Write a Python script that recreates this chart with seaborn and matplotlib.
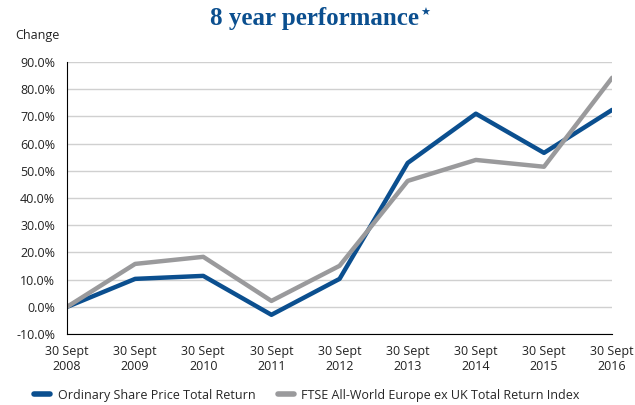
import numpy as np
import pandas as pd
import seaborn as sns
import matplotlib.pyplot as plt
from matplotlib.ticker import FuncFormatter

years = [2008, 2009, 2010, 2011, 2012, 2013, 2014, 2015, 2016]
share_price = [0.0, 10.3, 11.4, -2.9, 10.3, 52.9, 71.0, 56.6, 72.4]
ftse_index = [0.0, 15.8, 18.4, 2.2, 15.1, 46.3, 54.0, 51.5, 84.2]
series_names = ["Ordinary Share Price Total Return",
                "FTSE All-World Europe ex UK Total Return Index"]
tick_labels = ["30 Sept\n%d" % y for y in years]

df = pd.DataFrame({
    "year": years * 2,
    "change": share_price + ftse_index,
    "series": [series_names[0]] * len(years) + [series_names[1]] * len(years),
})

sns.set_style("white")
plt.rcParams['font.family'] = ['Open Sans', 'DejaVu Sans']

fig = plt.figure(figsize=(6.35, 4.05), dpi=100)
ax = fig.add_axes([0.1055, 0.175, 0.8585, 0.672])

palette = {series_names[0]: "#0b4f8f", series_names[1]: "#9a9a9c"}
sns.lineplot(data=df, x="year", y="change", hue="series", palette=palette,
             linewidth=3.2, ax=ax, legend=True)

ax.set_xlim(2008, 2016)
ax.set_ylim(-10, 90)
ax.set_yticks(np.arange(-10, 91, 10))
ax.yaxis.set_major_formatter(FuncFormatter(lambda v, p: "%.1f%%" % v))
ax.set_xticks(years)
ax.set_xticklabels(tick_labels)
ax.set_xlabel("")
ax.set_ylabel("")
ax.grid(axis="y", color="#d0d0d0", linewidth=1)
ax.set_axisbelow(True)
for s in ["top", "right"]:
    ax.spines[s].set_visible(False)
for s in ["left", "bottom"]:
    ax.spines[s].set_color("black")
    ax.spines[s].set_linewidth(0.8)
ax.tick_params(axis="both", direction="out", length=5, width=0.8, color="black",
               labelsize=9, labelcolor="#222222")
ax.tick_params(axis="x", pad=3)

ax.text(-0.095, 1.085, "Change", transform=ax.transAxes, fontsize=9, color="#222222")
title = fig.text(0.495, 0.955, "8 year performance", ha="center", va="center",
                 family="Liberation Serif", fontweight="bold", fontsize=18,
                 color="#0b4f8f")
fig.canvas.draw()
bb = title.get_window_extent().transformed(fig.transFigure.inverted())
fig.text(bb.x1 + 0.002, 0.968, "\u2605", ha="left", va="center",
         family=["DejaVu Sans"], fontsize=8, color="#0b4f8f")

handles, labels = ax.get_legend_handles_labels()
for h in handles:
    h.set_linewidth(4)
ax.legend(handles, labels, loc="center left", bbox_to_anchor=(-0.07, -0.225),
          ncol=2, frameon=False, fontsize=9, handlelength=1.3, handletextpad=0.6,
          columnspacing=1.8, borderaxespad=0)

fig.savefig("out.png", dpi=100)
